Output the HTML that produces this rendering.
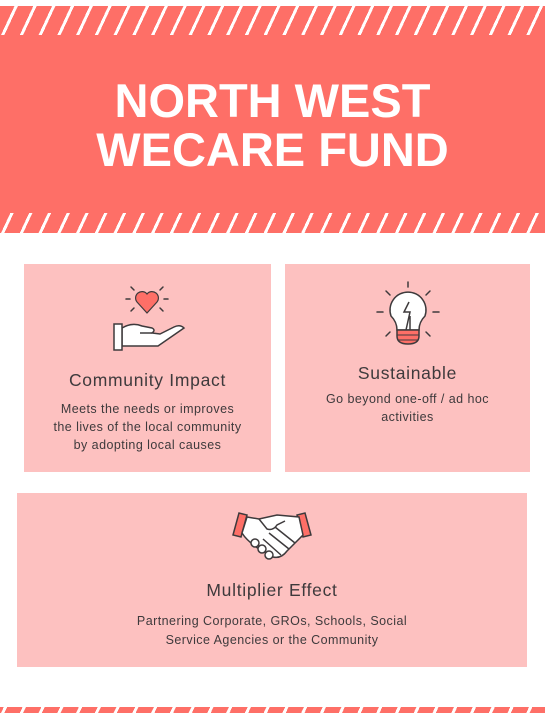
<!DOCTYPE html>
<html><head><meta charset="utf-8"><style>
*{margin:0;padding:0;box-sizing:border-box}
body{width:545px;height:713px;background:#fff;position:relative;overflow:hidden;font-family:"Liberation Sans",sans-serif;color:#3e3a3c}
.abs{position:absolute}
.stripes{background:repeating-linear-gradient(-65deg,#fe6f67 0 14px,#fff 14px 17px)}
.card{background:#fdc1c0}
.t{position:absolute;text-align:center;width:100%}
.h{font-size:17.5px;letter-spacing:0.7px}
.b{font-size:12.5px;letter-spacing:0.45px;line-height:18px}
</style></head><body>
<div class="abs stripes" style="left:0;top:6px;width:545px;height:29px"></div>
<div class="abs" style="left:0;top:35px;width:545px;height:178px;background:#fe6f67"></div>
<div class="abs stripes" style="left:0;top:213px;width:545px;height:20px"></div>
<div class="abs" style="left:0;top:76px;width:545px;text-align:center;color:#fff;font-weight:bold;font-size:47px;line-height:49px">NORTH WEST<br>WECARE FUND</div>

<div class="abs card" style="left:24px;top:264px;width:247px;height:208px">
<svg class="abs" style="left:84px;top:20px" width="80" height="72" viewBox="0 0 80 72">
<g stroke="#3e3a3c" stroke-width="1.5" fill="none" stroke-linecap="round">
<line x1="18" y1="15" x2="22" y2="15"/><line x1="56" y1="15" x2="60" y2="15"/>
<line x1="23" y1="3" x2="26" y2="6"/><line x1="55" y1="3" x2="52" y2="6"/>
<line x1="23" y1="27" x2="26" y2="24"/><line x1="55" y1="27" x2="52" y2="24"/></g>
<path d="M39 29 L29 18 A6 6 0 0 1 39 10 A6 6 0 0 1 49 18 Z" fill="#fe6f67" stroke="#3e3a3c" stroke-width="1.2"/>
<path d="M14 44 Q24 38 34 42 L44 44 Q48 46 44 49 L52 50 L66 43 Q72 40 76 44 L50 62 L14 62 Z" fill="#fff" stroke="#3e3a3c" stroke-width="1.5"/>
<path d="M44 49 L32 49" stroke="#3e3a3c" stroke-width="1.5" fill="none"/>
<path d="M6 40 H14 V66 H6 Z" fill="#fff" stroke="#3e3a3c" stroke-width="1.5"/>
</svg>
<div class="t h" style="top:106px">Community Impact</div>
<div class="t b" style="top:136px">Meets the needs or improves<br>the lives of the local community<br>by adopting local causes</div>
</div>

<div class="abs card" style="left:285px;top:264px;width:245px;height:208px">
<svg class="abs" style="left:88px;top:16px" width="70" height="72" viewBox="0 0 70 72">
<g stroke="#3e3a3c" stroke-width="1.5" fill="none" stroke-linecap="round">
<line x1="35" y1="2" x2="35" y2="7"/><line x1="4" y1="32" x2="10" y2="32"/><line x1="60" y1="32" x2="66" y2="32"/>
<line x1="13" y1="11" x2="17" y2="15"/><line x1="57" y1="11" x2="53" y2="15"/>
<line x1="13" y1="56" x2="17" y2="52"/><line x1="57" y1="56" x2="53" y2="52"/></g>
<path d="M24 50 Q24 42 18 36 A18 18 0 1 1 52 36 Q46 42 46 50 Z" fill="#fff" stroke="#3e3a3c" stroke-width="1.5"/>
<path d="M36 22 L31 32 L37 32 L33 50 M37 36 L37 50" stroke="#3e3a3c" stroke-width="1.5" fill="none"/>
<path d="M24 50 H46 V56 Q46 64 35 64 Q24 64 24 56 Z" fill="#fe6f67" stroke="#3e3a3c" stroke-width="1.5"/>
<line x1="24" y1="55" x2="46" y2="55" stroke="#3e3a3c"/><line x1="25" y1="60" x2="45" y2="60" stroke="#3e3a3c"/>
</svg>
<div class="t h" style="top:99px">Sustainable</div>
<div class="t b" style="top:126px">Go beyond one-off / ad hoc<br>activities</div>
</div>

<div class="abs card" style="left:17px;top:493px;width:510px;height:174px">
<svg class="abs" style="left:212px;top:14px" width="86" height="58" viewBox="0 0 86 58">
<path d="M4 28 L10 6 L18 8 L12 30 Z M82 28 L76 6 L68 8 L74 30 Z" fill="#fe6f67" stroke="#3e3a3c" stroke-width="1.5"/>
<path d="M13 26 L18 10 L30 12 L48 8 L70 10 L74 28 L58 44 Q52 52 44 50 L30 42 Q18 34 13 26 Z" fill="#fff" stroke="#3e3a3c" stroke-width="1.5"/>
<path d="M30 12 L38 22 Q44 24 48 18 L56 14 M46 20 L66 36 M40 26 L60 42 M34 32 L52 48" stroke="#3e3a3c" stroke-width="1.5" fill="none"/>
<circle cx="26" cy="36" r="4" fill="#fff" stroke="#3e3a3c" stroke-width="1.5"/><circle cx="33" cy="42" r="4" fill="#fff" stroke="#3e3a3c" stroke-width="1.5"/><circle cx="40" cy="48" r="4" fill="#fff" stroke="#3e3a3c" stroke-width="1.5"/>
</svg>
<div class="t h" style="top:87px">Multiplier Effect</div>
<div class="t b" style="top:119px;line-height:19px">Partnering Corporate, GROs, Schools, Social<br>Service Agencies or the Community</div>
</div>

<div class="abs stripes" style="left:0;top:707px;width:545px;height:6px"></div>
</body></html>
